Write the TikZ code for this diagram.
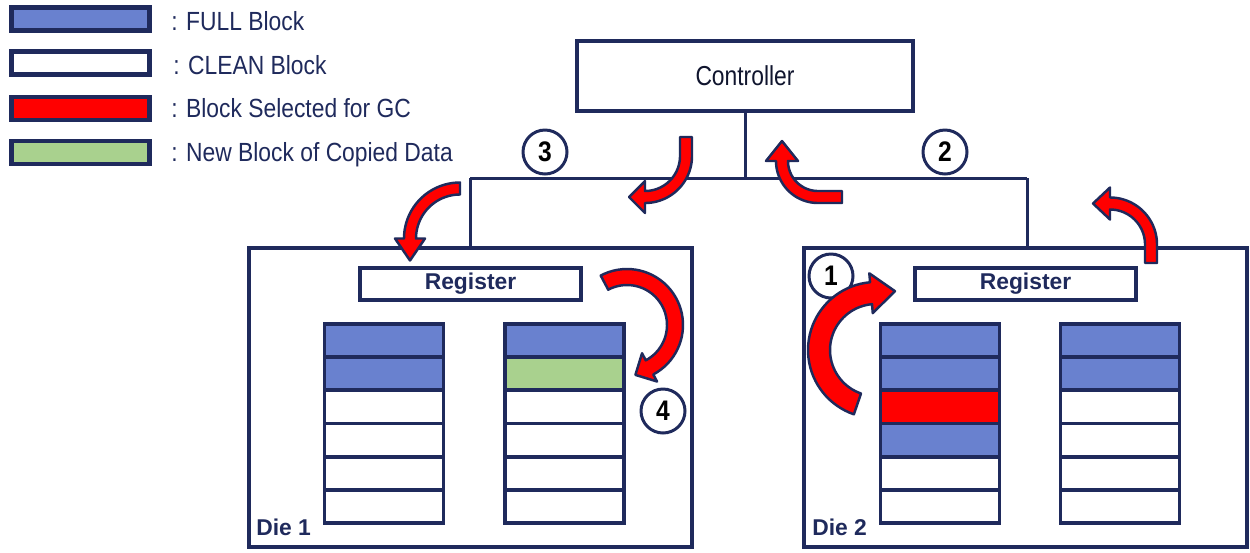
\documentclass[tikz,border=0pt]{standalone}
\usepackage{fontspec}
\setmainfont{Liberation Sans}
\usetikzlibrary{calc}
\definecolor{navy}{HTML}{1F2A5C}
\definecolor{fullblue}{HTML}{6981CF}
\definecolor{gcred}{HTML}{FF0000}
\definecolor{newgreen}{HTML}{A9D18E}
\newcommand\tallt[2]{\scalebox{1}[#1]{#2}}
% curved arrow: cx cy R a1 a2 halfwidth headhalfwidth headlength(signed) tail(signed)
\newcommand\carrow[9]{%
  \draw[redarr] ({#1+(#3+#6)*cos(#4)+(#9)*sin(#4)},{#2+(#3+#6)*sin(#4)-(#9)*cos(#4)})
   -- plot[domain=#4:#5,samples=40] ({#1+(#3+#6)*cos(\x)},{#2+(#3+#6)*sin(\x)})
   -- ({#1+(#3+#7)*cos(#5)},{#2+(#3+#7)*sin(#5)})
   -- ({#1+#3*cos(#5)-(#8)*sin(#5)},{#2+#3*sin(#5)+(#8)*cos(#5)})
   -- ({#1+(#3-#7)*cos(#5)},{#2+(#3-#7)*sin(#5)})
   -- plot[domain=#5:#4,samples=40] ({#1+(#3-#6)*cos(\x)},{#2+(#3-#6)*sin(\x)})
   -- ({#1+(#3-#6)*cos(#4)+(#9)*sin(#4)},{#2+(#3-#6)*sin(#4)-(#9)*cos(#4)})
   -- cycle;}
\begin{document}
\begin{tikzpicture}[x=0.02cm,y=-0.02cm,
  box/.style={draw=navy,line width=2.2pt,fill=white,inner sep=0pt},
  legbox/.style={box,line width=2.6pt,minimum width=2.76cm,minimum height=0.46cm},
  legtxt/.style={anchor=base west,inner sep=0pt,text=navy,font=\fontsize{13}{15}\selectfont},
  blk/.style={box,minimum width=2.38cm,minimum height=0.663cm},
  die/.style={box,minimum width=8.86cm,minimum height=5.98cm},
  reg/.style={box,minimum width=4.42cm,minimum height=0.64cm,text=navy,font=\bfseries\fontsize{13}{15}\selectfont},
  dielbl/.style={anchor=base west,inner sep=0pt,text=navy,font=\bfseries\fontsize{13}{15}\selectfont},
  bus/.style={draw=navy,line width=1.7pt},
  num/.style={circle,draw=navy,line width=1.7pt,fill=white,minimum size=0.88cm,inner sep=0pt,font=\bfseries\fontsize{14}{16}\selectfont},
  redarr/.style={fill=gcred,draw=navy,line width=1.4pt,line join=round}]
\useasboundingbox[fill=white] (0,0) rectangle (1250,552);

% legend
\node[legbox,fill=fullblue] (lg1) at (80.5,19) {};
\node[legbox,fill=white]    (lg2) at (80.5,63) {};
\node[legbox,fill=gcred]    (lg3) at (80.5,108.5) {};
\node[legbox,fill=newgreen] (lg4) at (80.5,152.5) {};
\node[legtxt] (lt1) at (171,30) {\tallt{1.15}{: FULL Block}};
\node[legtxt] (lt2) at (173,74) {\tallt{1.15}{: CLEAN Block}};
\node[legtxt] (lt3) at (171,117) {\tallt{1.15}{: Block Selected for GC}};
\node[legtxt] (lt4) at (171,161) {\tallt{1.15}{: New Block of Copied Data}};

% controller and bus
\node[box,minimum width=6.72cm,minimum height=1.4cm,text=navy!50!black,font=\fontsize{13}{15}\selectfont] (ctrl) at (745,76) {\tallt{1.2}{Controller}};
\node[die] (die1) at (470.5,397.5) {};
\node[die] (die2) at (1025.5,397.5) {};
\coordinate (busL) at (470,178);
\coordinate (busM) at (745,178);
\coordinate (busR) at (1027,178);
\draw[bus] (ctrl.south) -- (busM);
\draw[bus] (busL) -- (busR);
\draw[bus] (busL) -- (busL |- die1.north);
\draw[bus] (busR) -- (busR |- die2.north);

% registers
\node[reg] (reg1) at (470.5,284) {Register};
\node[reg] (reg2) at (1025.5,284) {Register};

% blocks
\foreach \c/\nm/\cols in {384/aL/{fullblue,fullblue,white,white,white,white},
                          564.5/aR/{fullblue,newgreen,white,white,white,white},
                          940/bL/{fullblue,fullblue,gcred,fullblue,white,white},
                          1120/bR/{fullblue,fullblue,white,white,white,white}}{
  \foreach \col [count=\i] in \cols {
    \node[blk,fill=\col] (\nm\i) at (\c,{324+33.17*(\i-0.5)}) {};
  }
}

% die labels
\node[dielbl] (dl1) at (256,535) {Die 1};
\node[dielbl] (dl2) at (812,535) {Die 2};

% circled numbers
\node[num] (n3) at (545,152) {\tallt{1.15}{3}};
\node[num] (n2) at (945,152) {\tallt{1.15}{2}};
\node[num] (n4) at (663,411) {\tallt{1.15}{4}};
\node[num] (n1) at (831,276) {\tallt{1.15}{1}};

% red curved arrows
\carrow{645}{156}{41}{0}{90}{6}{16}{16}{19}
\carrow{818}{161}{36}{90}{180}{6}{16}{20}{24}
\carrow{460}{238.5}{50}{270}{180}{6}{15}{-22}{0}
\carrow{1110}{244.5}{41}{0}{-90}{6}{16}{-17}{-18.5}
\carrow{627}{325}{48}{-118}{62}{8}{16}{16}{0}
\carrow{876}{350}{57}{109}{265}{11}{20}{24}{0}
\end{tikzpicture}
\end{document}
